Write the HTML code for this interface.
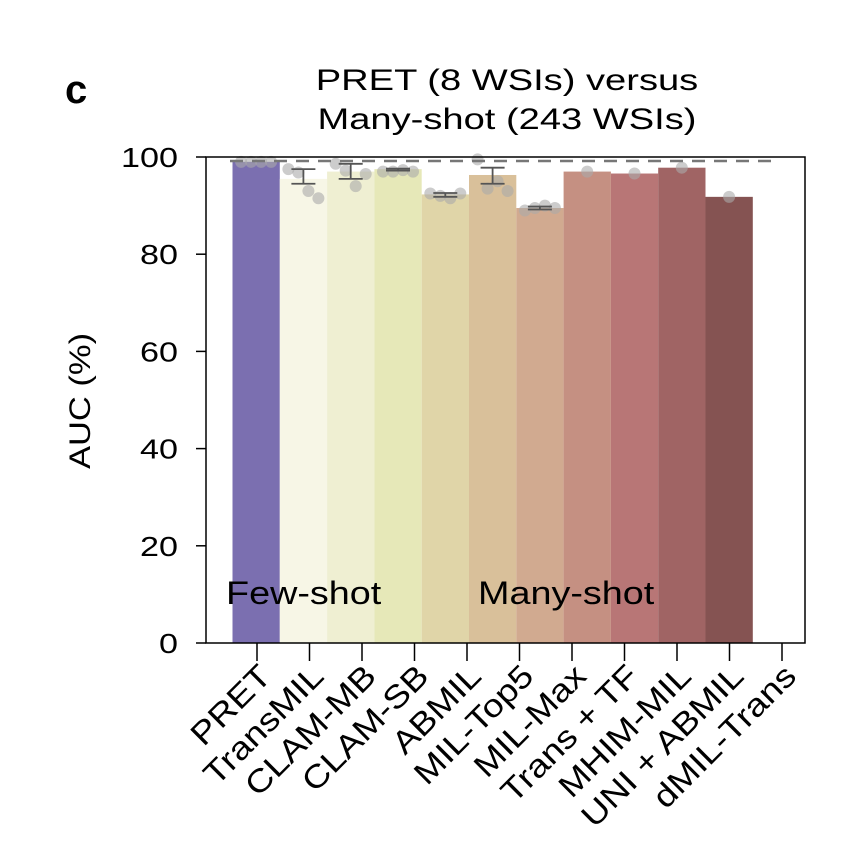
<!DOCTYPE html>
<html><head><meta charset="utf-8"><style>
body{margin:0;background:#fff}
svg{font-family:"Liberation Sans",Arial,sans-serif}
</style></head><body>
<svg width="865" height="851" viewBox="0 0 865 851">
<text x="65" y="103" font-size="40" font-weight="bold">c</text>
<text x="507" y="90" font-size="30" text-anchor="middle" data-stretch="1.27">PRET (8 WSIs) versus</text>
<text x="507" y="129" font-size="30" text-anchor="middle" data-stretch="1.27">Many-shot (243 WSIs)</text>
<text transform="translate(90,469) rotate(-90)" font-size="30" data-stretch="1.15">AUC (%)</text>
<g id="bars"></g><g id="dots"></g><g id="errs"></g>
<line x1="230" x2="780" y1="161" y2="161" stroke="#777" stroke-width="2.5" stroke-dasharray="13,9"/>
<rect x="206" y="157" width="599" height="486" fill="none" stroke="#000" stroke-width="1.5"/>
<g id="yaxis"></g><g id="xaxis"></g>
<text x="226" y="604" font-size="32" data-stretch="1.18">Few-shot</text>
<text x="478" y="604" font-size="32" data-stretch="1.18">Many-shot</text>
</svg>
<script>
const categories=["PRET","TransMIL","CLAM-MB","CLAM-SB","ABMIL","MIL-Top5","MIL-Max","Trans + TF","MHIM-MIL","UNI + ABMIL","dMIL-Trans"];
const values=[99,95.5,97,97.5,92.3,96.3,89.5,97,96.6,97.8,91.8];
const errLow=[0,94.5,95.5,97.2,91.8,94.5,89.2,0,0,0,0];
const errHigh=[0,97.5,98.6,97.6,92.6,97.8,89.8,0,0,0,0];
const dotVals=[[99,99,99,99],[97.5,96.8,93,91.5],[98.6,97.2,94,96.5],[97,97,97.3,97],[92.5,92,91.5,92.5],[99.5,93.5,95,93],[89,89.5,90,89.5],[97],[96.6],[97.8],[91.8]];
const colors=["#7b6fb0","#f7f6e6","#efefd2","#e6e8b8","#e0d5a8","#d9c09a","#d1aa90","#c59082","#b87676","#a06464","#855352"];
const yTicks=[0,20,40,60,80,100];
const NS="http://www.w3.org/2000/svg";
const y=v=>643-v*4.86;
const bx=i=>232.5+i*47.3;
const tx=i=>257+i*52.5;
function mk(t,a,p){const e=document.createElementNS(NS,t);for(const k in a)e.setAttribute(k,a[k]);document.getElementById(p).appendChild(e);return e;}
values.forEach((v,i)=>{
 const r=mk("rect",{x:bx(i),y:y(v),width:47.3,height:y(0)-y(v),fill:colors[i]},"bars");
 
 
 const c=bx(i)+23.6;
 dotVals[i].forEach((d,j)=>{
  const n=dotVals[i].length;
  const dx=n>1?(j-(n-1)/2)*10:0;
  const ci=mk("circle",{cx:c+dx,cy:y(d),r:6,fill:"#aaa","fill-opacity":0.6},"dots");
  
  
 });
 if(errHigh[i]>0){
  const g=mk("path",{d:`M${c-12},${y(errHigh[i])}H${c+12}M${c},${y(errHigh[i])}V${y(errLow[i])}M${c-12},${y(errLow[i])}H${c+12}`,stroke:"#555","stroke-width":1.8,fill:"none"},"errs");
  
  
 }
});
yTicks.forEach(t=>{
 const l=mk("line",{x1:196,x2:206,y1:y(t),y2:y(t),stroke:"#000","stroke-width":1.5},"yaxis");
 
 
 const tt=mk("text",{x:178,y:y(t)+10,"font-size":28,"text-anchor":"end","data-stretch":1.22},"yaxis");
 tt.textContent=t;
 
 
});
categories.forEach((c,i)=>{
 const l=mk("line",{x1:tx(i),x2:tx(i),y1:643,y2:661,stroke:"#000","stroke-width":1.5},"xaxis");
 
 
 const t=mk("text",{transform:`translate(${tx(i)+16},${678}) rotate(-45)`,"font-size":32,"text-anchor":"end","data-stretch":1.15},"xaxis");
 t.textContent=c;
 
 
});
document.querySelectorAll('text[data-stretch]').forEach(t=>{
 const f=parseFloat(t.getAttribute('data-stretch'));
 t.setAttribute('textLength',(t.getComputedTextLength()*f).toFixed(1));
 t.setAttribute('lengthAdjust','spacingAndGlyphs');
});
</script>
</body></html>
